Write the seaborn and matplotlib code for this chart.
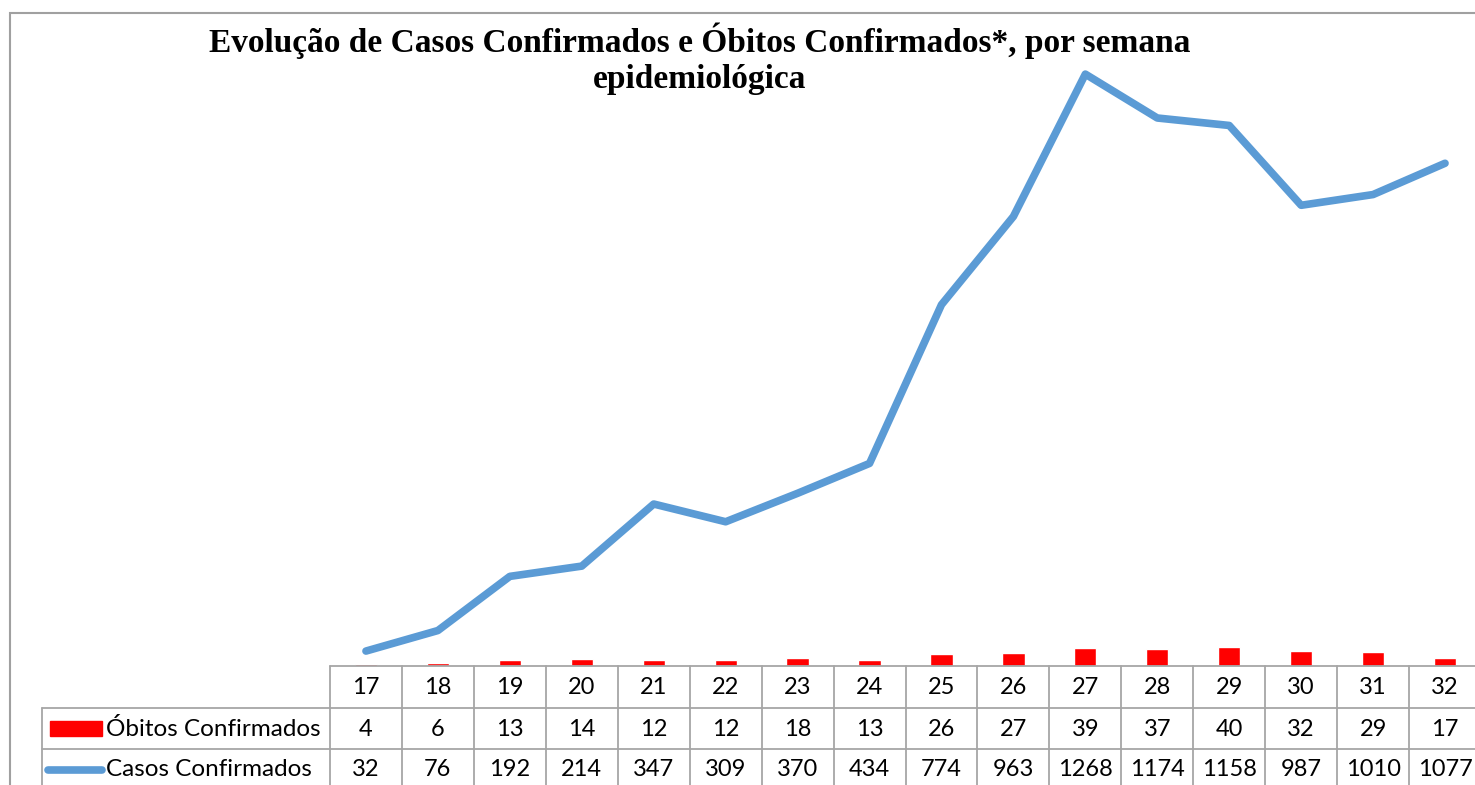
import seaborn as sns
import matplotlib.pyplot as plt
import numpy as np
from matplotlib.patches import Rectangle
from matplotlib.lines import Line2D
from matplotlib.transforms import blended_transform_factory

# data
semanas = ["17", "18", "19", "20", "21", "22", "23", "24",
           "25", "26", "27", "28", "29", "30", "31", "32"]
obitos = [4, 6, 13, 14, 12, 12, 18, 13, 26, 27, 39, 37, 40, 32, 29, 17]
casos = [32, 76, 192, 214, 347, 309, 370, 434, 774, 963, 1268, 1174, 1158, 987, 1010, 1077]
serie_obitos = "Óbitos Confirmados"
serie_casos = "Casos Confirmados"
titulo = "Evolução de Casos Confirmados e Óbitos Confirmados*, por semana\nepidemiológica"

W, H = 1475, 785
BLUE = "#5B9BD5"
RED = "#FF0000"
GRID = "#A6A6A6"


def fx(px):
    return px / W


def fy(py):
    return 1 - py / H


sns.set_style("white")
plt.rcParams["font.family"] = ["Lato", "DejaVu Sans"]
plt.rcParams["text.color"] = "black"

fig = plt.figure(figsize=(W / 100, H / 100), dpi=100)

# outer chart frame (continues past the right/bottom edge)
fig.add_artist(Rectangle((fx(10), fy(H + 20)), 1.2, fy(13) - fy(H + 20),
                         transform=fig.transFigure, fill=False,
                         edgecolor="#A0A0A0", linewidth=1.5))

ax = fig.add_axes([fx(330), fy(666), (1481 - 330) / W, (666 - 12.5) / H])

x = np.arange(len(semanas))
sns.barplot(x=semanas, y=obitos, ax=ax, color=RED, width=0.31, saturation=1)
sns.lineplot(x=x, y=casos, ax=ax, color=BLUE, linewidth=5.5,
             solid_joinstyle="round", solid_capstyle="round")
ax.set_xlim(-0.5, len(semanas) - 0.5)
ax.set_ylim(0, 1400)
ax.axis("off")

fig.text(fx(700), fy(59), titulo, ha="center", va="center", fontsize=24,
         fontweight="bold", family=["Liberation Serif"], linespacing=1.2)

# data table below the plot
tr = blended_transform_factory(ax.transData, fig.transFigure)
kw = dict(color=GRID, linewidth=1.3, clip_on=False)
ax.add_line(Line2D([-0.5, len(semanas) - 0.5], [fy(666), fy(666)], transform=tr, **kw))
for py in (708, 749):
    fig.add_artist(Line2D([fx(42), 1.01], [fy(py), fy(py)], transform=fig.transFigure, **kw))
for k in range(len(semanas) + 1):
    ax.add_line(Line2D([k - 0.5, k - 0.5], [fy(666), fy(H + 10)], transform=tr, **kw))
fig.add_artist(Line2D([fx(42), fx(42)], [fy(708), fy(H + 10)], transform=fig.transFigure, **kw))

fs = 17
for i in range(len(semanas)):
    ax.text(i, fy(688), semanas[i], transform=tr, ha="center", va="center", fontsize=fs)
    ax.text(i, fy(729), str(obitos[i]), transform=tr, ha="center", va="center", fontsize=fs)
    ax.text(i, fy(770), str(casos[i]), transform=tr, ha="center", va="center", fontsize=fs)

# legend keys inside the row labels
fig.add_artist(Rectangle((fx(50), fy(736)), fx(102) - fx(50), fy(721) - fy(736),
                         transform=fig.transFigure, color=RED))
fig.add_artist(Line2D([fx(48), fx(102)], [fy(770), fy(770)], transform=fig.transFigure,
                      color=BLUE, linewidth=5.5, solid_capstyle="round"))
fig.text(fx(106), fy(729), serie_obitos, ha="left", va="center", fontsize=17.5)
fig.text(fx(106), fy(770), serie_casos, ha="left", va="center", fontsize=17.5)

fig.savefig("out.png", dpi=100)
